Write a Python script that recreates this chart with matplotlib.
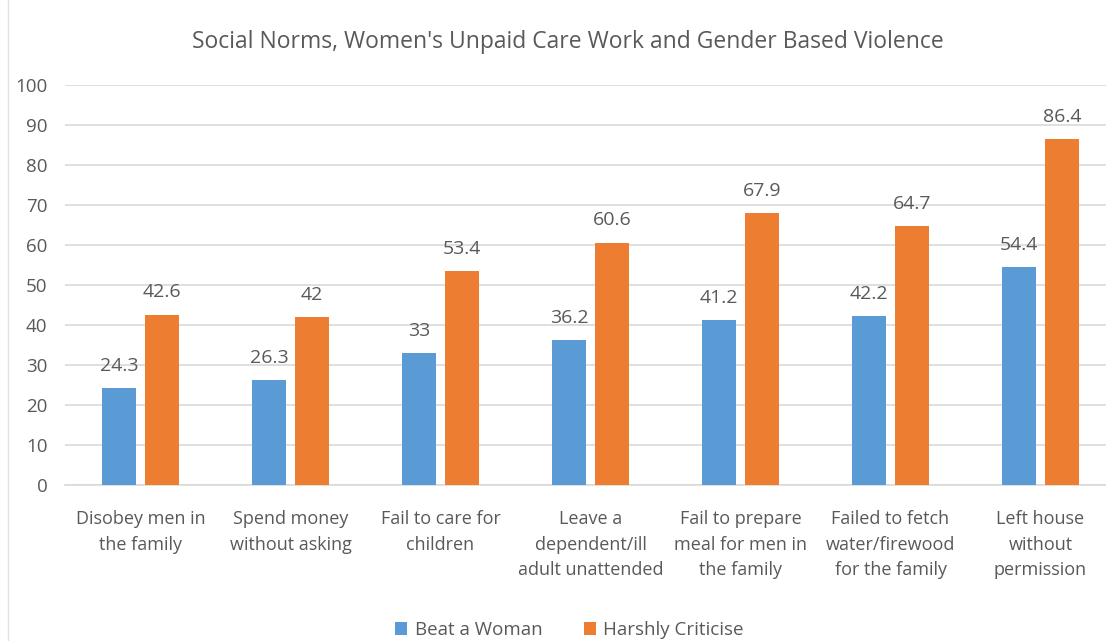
import matplotlib.pyplot as plt
from matplotlib.lines import Line2D
import numpy as np

categories = [
    "Disobey men in\nthe family",
    "Spend money\nwithout asking",
    "Fail to care for\nchildren",
    "Leave a\ndependent/ill\nadult unattended",
    "Fail to prepare\nmeal for men in\nthe family",
    "Failed to fetch\nwater/firewood\nfor the family",
    "Left house\nwithout\npermission",
]
beat = [24.3, 26.3, 33, 36.2, 41.2, 42.2, 54.4]
criticise = [42.6, 42, 53.4, 60.6, 67.9, 64.7, 86.4]
beat_labels = ["24.3", "26.3", "33", "36.2", "41.2", "42.2", "54.4"]
crit_labels = ["42.6", "42", "53.4", "60.6", "67.9", "64.7", "86.4"]
series_names = ["Beat a Woman", "Harshly Criticise"]
yticks = list(range(0, 101, 10))

plt.rcParams['font.family'] = ['Open Sans', 'DejaVu Sans']
txt = '#595959'

fig = plt.figure(figsize=(11.06, 6.41), dpi=100)
fig.patch.set_facecolor('white')
ax = fig.add_axes([0.0592, 0.2434, 0.9494, 0.624])

x = np.arange(len(categories))
w = 0.227
off = 0.143
b1 = ax.bar(x - off, beat, w, color='#5B9BD5', label=series_names[0], zorder=3)
b2 = ax.bar(x + off, criticise, w, color='#ED7D31', label=series_names[1], zorder=3)

for rect, lab in zip(b1, beat_labels):
    ax.text(rect.get_x() + rect.get_width() / 2, rect.get_height() + 3.3, lab,
            ha='center', va='bottom', fontsize=14, color=txt)
for rect, lab in zip(b2, crit_labels):
    ax.text(rect.get_x() + rect.get_width() / 2, rect.get_height() + 3.3, lab,
            ha='center', va='bottom', fontsize=14, color=txt)

ax.set_xlim(-0.5, len(categories) - 0.5)
ax.set_ylim(0, 100)
ax.set_yticks(yticks)
ax.set_yticklabels([str(t) for t in yticks], fontsize=13.5, color=txt)
ax.set_xticks(x)
ax.set_xticklabels(categories, fontsize=13, color=txt, linespacing=1.55)
ax.tick_params(axis='both', length=0)
ax.tick_params(axis='y', pad=13)
ax.tick_params(axis='x', pad=18)
ax.yaxis.grid(True, color='#D9D9D9', linewidth=1.2, zorder=0)
for s in ['top', 'right', 'left']:
    ax.spines[s].set_visible(False)
ax.spines['bottom'].set_color('#D9D9D9')
ax.spines['bottom'].set_linewidth(1.2)

fig.text(0.5136, 0.935, "Social Norms, Women's Unpaid Care Work and Gender Based Violence",
         ha='center', va='center', fontsize=16.5, color=txt)

leg = fig.legend(loc='center', bbox_to_anchor=(0.515, 0.017), ncol=2, frameon=False,
                 fontsize=13.5, handlelength=0.65, handleheight=0.65, columnspacing=2.2,
                 handletextpad=0.4)
for t in leg.get_texts():
    t.set_color(txt)

fig.add_artist(Line2D([8 / 1106, 8 / 1106], [0, 1], transform=fig.transFigure,
                      color='#E3E3E3', linewidth=1))

fig.savefig('out.png', dpi=100)
